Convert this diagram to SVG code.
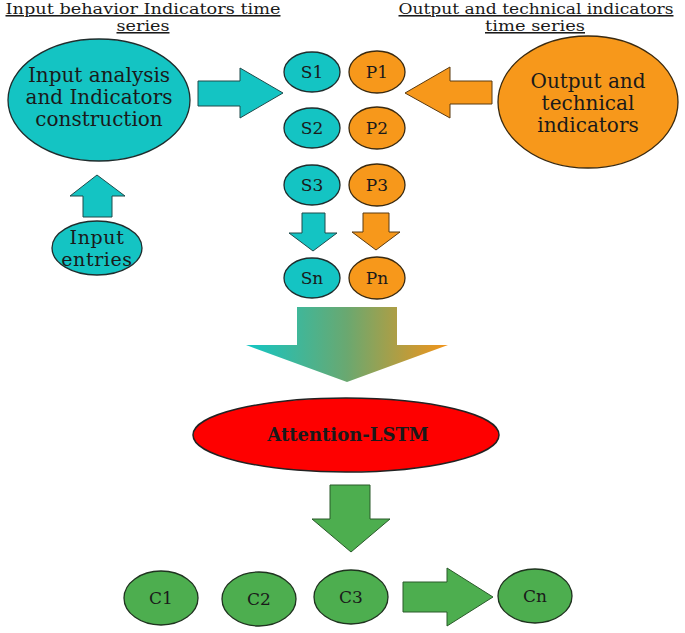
<svg xmlns="http://www.w3.org/2000/svg" width="685" height="633" viewBox="0 0 685 633">
<defs>
<linearGradient id="grad" x1="0" y1="0" x2="1" y2="0">
<stop offset="0" stop-color="#13c6c4"/>
<stop offset="0.5" stop-color="#6aa870"/>
<stop offset="1" stop-color="#f39419"/>
</linearGradient>
</defs>
<style>
text{font-family:"DejaVu Serif","Liberation Serif",serif;fill:#1a1a1a;text-anchor:middle}
.t{font-size:15.5px;text-decoration:underline}
.cy{fill:#14c4c3;stroke:#1f2d2d;stroke-width:1.3}
.or{fill:#f7981b;stroke:#3a2a10;stroke-width:1.3}
.gr{fill:#4dae4f;stroke:#1f331f;stroke-width:1.3}
.rd{fill:#fe0000;stroke:#222;stroke-width:1.5}
.ar-c{fill:#14c4c3;stroke:#1f4a4a;stroke-width:1}
.ar-o{fill:#f7981b;stroke:#5a3a10;stroke-width:1}
.ar-g{fill:#4dae4f;stroke:#2a5a2a;stroke-width:1}
.s{font-size:17px}
.b{font-size:20px}
.e{font-size:19px;letter-spacing:0.6px}
</style>
<g id="titles">
<text class="t" x="143" y="14" textLength="275" lengthAdjust="spacingAndGlyphs">Input behavior Indicators time</text>
<text class="t" x="143" y="31" textLength="53" lengthAdjust="spacingAndGlyphs">series</text>
<text class="t" x="536" y="14" textLength="275" lengthAdjust="spacingAndGlyphs">Output and technical indicators</text>
<text class="t" x="535" y="31" textLength="100" lengthAdjust="spacingAndGlyphs">time series</text>
</g>
<g id="connectors">
<polygon class="ar-c" points="198,81 240,81 240,68 283,93 240,118 240,106 198,106"/>
<polygon class="ar-o" points="492,81 450,81 450,67 405,93 450,118 450,104 492,104"/>
<polygon class="ar-c" points="83,217 83,196 70,196 97,175 125,196 112,196 112,217"/>
<polygon class="ar-c" points="302,213 325,213 325,233 337,233 313,251 289,233 302,233"/>
<polygon class="ar-o" points="363,213 389,213 389,232 400,232 376,250 352,232 363,232"/>
<polygon fill="url(#grad)" points="297,307 397,307 397,345 448,345 347,382 246,345 297,345"/>
<polygon class="ar-g" points="330,485 370,485 370,519 390,519 351,552 312,519 330,519"/>
<polygon class="ar-g" points="403,582 447,582 447,568 493,597 447,626 447,612 403,612"/>
</g>
<g id="input-analysis">
<ellipse class="cy" cx="99" cy="100" rx="91" ry="61" stroke-width="2"/>
<text class="b" x="99" y="82">Input analysis</text>
<text class="b" x="99" y="104">and Indicators</text>
<text class="b" x="99" y="126">construction</text>
</g>
<g id="input-entries">
<ellipse class="cy" cx="97" cy="248" rx="45" ry="27"/>
<text class="e" x="97" y="244">Input</text>
<text class="e" x="97" y="266">entries</text>
</g>
<g id="output-indicators">
<ellipse class="or" cx="588" cy="102" rx="90" ry="66"/>
<text class="b" x="588" y="88">Output and</text>
<text class="b" x="588" y="110">technical</text>
<text class="b" x="588" y="132">indicators</text>
</g>
<g id="S1"><ellipse class="cy" cx="312" cy="72" rx="28" ry="20"/><text class="s" x="312" y="78">S1</text></g>
<g id="P1"><ellipse class="or" cx="377" cy="72" rx="28" ry="21"/><text class="s" x="377" y="78">P1</text></g>
<g id="S2"><ellipse class="cy" cx="312" cy="128" rx="28" ry="20"/><text class="s" x="312" y="134">S2</text></g>
<g id="P2"><ellipse class="or" cx="377" cy="128" rx="28" ry="21"/><text class="s" x="377" y="134">P2</text></g>
<g id="S3"><ellipse class="cy" cx="312" cy="185" rx="28" ry="20"/><text class="s" x="312" y="191">S3</text></g>
<g id="P3"><ellipse class="or" cx="377" cy="185" rx="28" ry="21"/><text class="s" x="377" y="191">P3</text></g>
<g id="Sn"><ellipse class="cy" cx="312" cy="278" rx="28" ry="20"/><text class="s" x="312" y="284">Sn</text></g>
<g id="Pn"><ellipse class="or" cx="377" cy="278" rx="28" ry="21"/><text class="s" x="377" y="284">Pn</text></g>
<g id="attention-lstm">
<ellipse class="rd" cx="346" cy="435" rx="153" ry="37"/>
<text x="348" y="441" font-size="18" font-weight="bold">Attention-LSTM</text>
</g>
<g id="C1"><ellipse class="gr" cx="161" cy="598" rx="37" ry="27"/><text class="s" x="161" y="604">C1</text></g>
<g id="C2"><ellipse class="gr" cx="259" cy="599" rx="37" ry="27"/><text class="s" x="259" y="605">C2</text></g>
<g id="C3"><ellipse class="gr" cx="351" cy="597" rx="37" ry="27"/><text class="s" x="351" y="603">C3</text></g>
<g id="Cn"><ellipse class="gr" cx="535" cy="596" rx="37" ry="27"/><text class="s" x="535" y="602">Cn</text></g>
</svg>
